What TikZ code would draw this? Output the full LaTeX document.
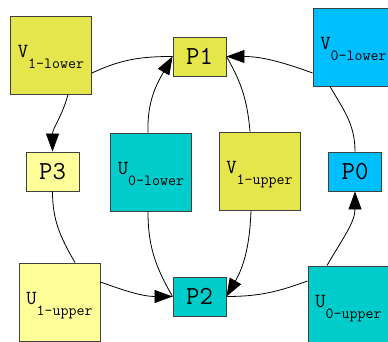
\documentclass[tikz,border=0pt]{standalone}
\usetikzlibrary{arrows.meta}
\definecolor{olive}{HTML}{E5E54C}
\definecolor{lyel}{HTML}{FFFF99}
\definecolor{cyanb}{HTML}{00CCCC}
\definecolor{skyb}{HTML}{00BFFF}
\newcommand{\vlab}[2]{{\fontsize{20}{20}\selectfont #1}\raisebox{-11pt}{\fontsize{15.5}{15.5}\selectfont #2}}
\tikzset{
  bigbox/.style={draw=black!75, line width=0.9pt, minimum width=81pt, minimum height=78pt, inner sep=0pt, text height=14pt, text depth=8pt, font=\ttfamily},
  pbox/.style={draw=black!75, line width=0.9pt, minimum width=53pt, minimum height=39pt, inner sep=0pt, font=\ttfamily\fontsize{26}{26}\selectfont},
  edge/.style={line width=0.8pt},
  arr/.style={edge, -{Triangle[length=18pt,width=13pt]}},
}
\begin{document}
\begin{tikzpicture}[x=1pt,y=1pt]
\useasboundingbox (0,0) rectangle (388,342);
\fill[white] (0,0) rectangle (388,342);
\node[bigbox, fill=olive] (v1l) at (51,287) {\vlab{V}{1-lower}};
\node[pbox, fill=olive] (p1) at (199.5,285.5) {P1};
\node[bigbox, fill=skyb] (v0l) at (353.5,295) {\vlab{V}{0-lower}};
\node[pbox, fill=lyel] (p3) at (52.5,170.5) {P3};
\node[bigbox, fill=cyanb] (u0l) at (151,170) {\vlab{U}{0-lower}};
\node[bigbox, fill=olive] (v1u) at (259.5,171) {\vlab{V}{1-upper}};
\node[pbox, fill=skyb] (p0) at (355,170.5) {P0};
\node[bigbox, fill=lyel] (u1u) at (59.5,40) {\vlab{U}{1-upper}};
\node[pbox, fill=cyanb] (p2) at (199.5,45.5) {P2};
\node[bigbox, fill=cyanb] (u0u) at (348.5,37) {\vlab{U}{0-upper}};

\draw[arr] ([xshift=17pt]v1l.south) to[out=-105,in=90] (p3.north);
\draw[edge] ([yshift=-18pt]v1l.east) to[out=25,in=180] (p1.west);
\draw[arr] ([xshift=-3pt]u0l.north) to[out=92,in=240] (p1.west);
\draw[arr] ([yshift=-26pt]v0l.west) to[out=160,in=0] (p1.east);
\draw[edge] ([xshift=-9.5pt]v1u.north) to[out=95,in=300] (p1.east);
\draw[edge] ([xshift=-23.5pt]v0l.south) to[out=-60,in=90] (p0.north);
\draw[edge] (p3.south) to[out=-90,in=120] ([xshift=15.5pt]u1u.north);
\draw[arr] ([yshift=20pt]u1u.east) to[out=-20,in=180] (p2.west);
\draw[edge] ([xshift=-3pt]u0l.south) to[out=-90,in=120] (p2.west);
\draw[arr] ([xshift=-8.5pt]v1u.south) to[out=-92,in=60] (p2.east);
\draw[edge] ([yshift=24pt]u0u.west) to[out=200,in=0] (p2.east);
\draw[arr] ([xshift=-21.5pt]u0u.north) to[out=60,in=-90] (p0.south);
\end{tikzpicture}
\end{document}
